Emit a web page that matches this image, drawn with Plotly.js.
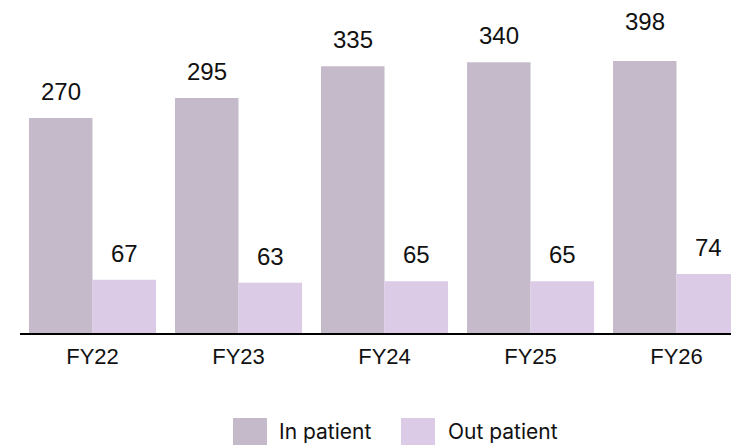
<!DOCTYPE html>
<html>
<head>
<meta charset="utf-8">
<script src="https://cdn.plot.ly/plotly-3.0.1.min.js"></script>
<style>html,body{margin:0;padding:0;background:#fff;}#chart{width:731px;height:445px;}</style>
</head>
<body>
<div id="chart"></div>
<script>
var categories = ["FY22", "FY23", "FY24", "FY25", "FY26"];
var inPatient = [270, 295, 335, 340, 398];
var outPatient = [67, 63, 65, 65, 74];
var seriesNames = ["In patient", "Out patient"];
var colors = ["#c5bac9", "#dbcbe6"];

var W = 731, H = 445;
var M = {l: 20, r: 0, t: 61, b: 112};
var yMax = 341.5;
var plotW = W - M.l - M.r, plotH = H - M.t - M.b;
function pxX(p) { return (p - M.l) / plotW; }
function pxY(p) { return (H - M.b - p) / plotH; }

var traces = [
  {type: "bar", x: categories, y: inPatient, name: seriesNames[0], marker: {color: colors[0]}, hoverinfo: "none"},
  {type: "bar", x: categories, y: outPatient, name: seriesNames[1], marker: {color: colors[1]}, hoverinfo: "none"}
];

var annotations = [];
var barOffset = 31.75;
[inPatient, outPatient].forEach(function (vals, si) {
  vals.forEach(function (v, i) {
    var clipped = v > yMax;
    annotations.push({
      x: categories[i], y: Math.min(v, yMax), xref: "x", yref: "y",
      text: String(v), showarrow: false, xanchor: "center", yanchor: "middle",
      xshift: si === 0 ? -barOffset : barOffset, yshift: clipped ? 40 : 26.5,
      font: {family: "Liberation Sans, Arial, sans-serif", size: 24, color: "#111"}
    });
  });
});

// custom legend (large swatches)
var legendItems = [{sx: 233, tx: 277}, {sx: 401, tx: 446}];
var shapes = [];
legendItems.forEach(function (it, k) {
  shapes.push({type: "rect", xref: "paper", yref: "paper",
    x0: pxX(it.sx), x1: pxX(it.sx + 34), y0: pxY(418), y1: pxY(452),
    fillcolor: colors[k], line: {width: 0}});
  annotations.push({xref: "paper", yref: "paper", x: pxX(it.tx), y: pxY(431),
    xanchor: "left", yanchor: "middle", showarrow: false, text: seriesNames[k],
    font: {family: "Inter, Roboto, sans-serif", size: 21, color: "#111"}});
});

var layout = {
  width: W, height: H,
  margin: M,
  paper_bgcolor: "#fff", plot_bgcolor: "#fff",
  showlegend: false,
  barmode: "group", bargap: 0.13, bargroupgap: 0,
  xaxis: {
    type: "category", range: [-0.4966, 4.373], fixedrange: true,
    showline: true, linecolor: "#000", linewidth: 2, ticks: "",
    showgrid: false, zeroline: false, ticklabelstandoff: 3,
    tickfont: {family: "Liberation Sans, Arial, sans-serif", size: 22, color: "#111"}
  },
  yaxis: {range: [0, yMax], visible: false, showgrid: false, zeroline: false, fixedrange: true},
  annotations: annotations,
  shapes: shapes
};

Plotly.newPlot("chart", traces, layout, {displayModeBar: false, staticPlot: true});
</script>
</body>
</html>
